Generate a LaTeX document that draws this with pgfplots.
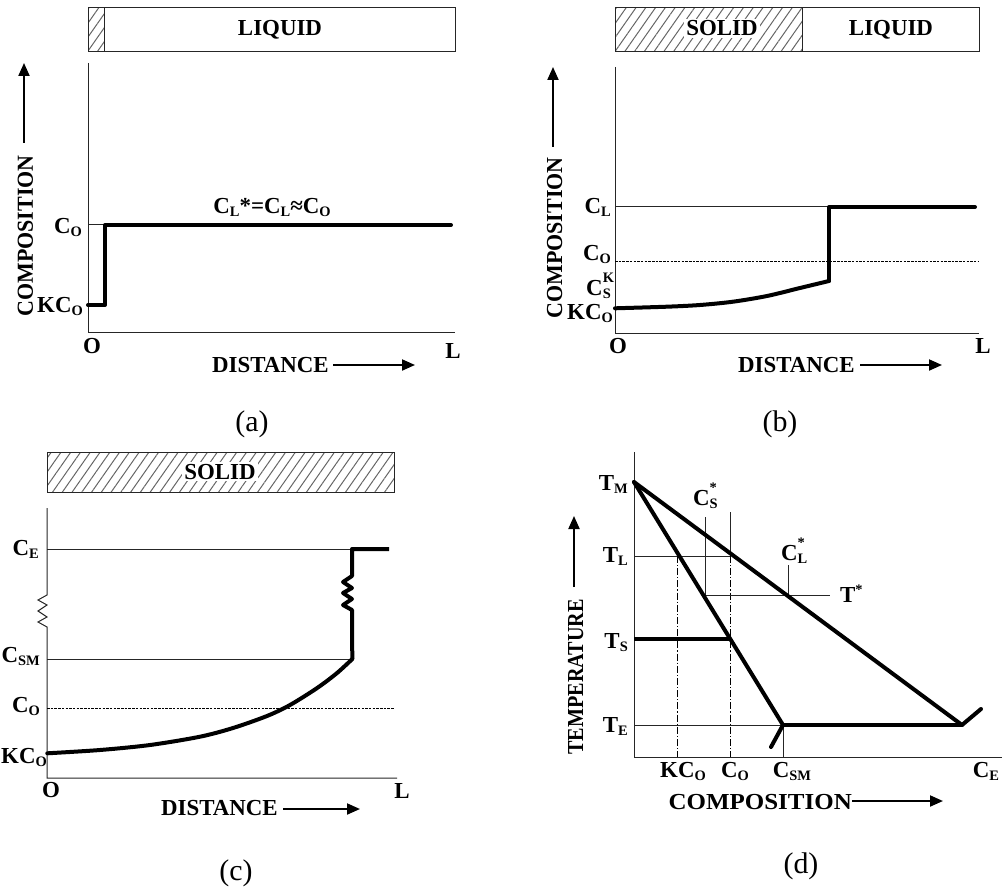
\documentclass[border=0pt]{standalone}
\usepackage{fontspec}
\setmainfont{Liberation Serif}
\usepackage{pgfplots}
\pgfplotsset{compat=1.18}
\usetikzlibrary{patterns.meta,arrows.meta}
\newcommand{\lab}{\bfseries\fontsize{23}{25}\selectfont}
\newcommand{\capf}{\fontsize{30}{32}\selectfont}
\newcommand{\sub}[1]{\raisebox{-3bp}{\fontsize{14.5}{14.5}\selectfont #1}}
\newcommand{\supsub}[2]{\rlap{\raisebox{12.5bp}{\fontsize{14.5}{14.5}\selectfont #1}}\sub{#2}}
\begin{document}
\begin{tikzpicture}[
  thinl/.style={line width=1bp, black!85},
  thickl/.style={line width=4bp, black, line cap=round, line join=round},
  dashl/.style={line width=0.8bp, black, dash pattern=on 2.5bp off 1.2bp},
  dashdot/.style={line width=0.9bp, black, dash pattern=on 7bp off 2bp on 1.2bp off 2bp},
  hatch/.style={pattern={Lines[angle=55,distance=8bp,line width=1bp]}, pattern color=black!60},
  arr/.style={line width=2bp, -{Triangle[length=13bp,width=11bp]}},
]
\begin{axis}[at={(0,0)}, anchor=south west, scale only axis,
  width=1005bp, height=888bp, xmin=0, xmax=1005, ymin=0, ymax=888,
  y dir=reverse, axis lines=none, clip=false]

% ================= (a) =================
\addplot[thinl, hatch] coordinates {(88,8) (104,8) (104,52) (88,52) (88,8)};
\addplot[thinl] coordinates {(104,8) (455,8) (455,52) (104,52)};
\node[anchor=base, font=\lab] at (axis cs:280,36) {LIQUID};
\addplot[thinl] coordinates {(88,63) (88,332) (455,332)};
\addplot[thinl] coordinates {(88,225) (105,225)};
\addplot[thickl] coordinates {(88,305) (105,305) (105,225) (451,225)};
\node[anchor=base, font=\lab] at (axis cs:272,213) {C\sub{L}*=C\sub{L}≈C\sub{O}};
\node[anchor=base east, font=\lab, inner sep=0pt] at (axis cs:82,233) {C\sub{O}};
\node[anchor=base east, font=\lab, inner sep=0pt] at (axis cs:83,312) {KC\sub{O}};
\node[anchor=base, font=\lab] at (axis cs:92,353) {O};
\node[anchor=base, font=\lab] at (axis cs:453,358) {L};
\node[anchor=base east, font=\lab, inner sep=0pt] at (axis cs:329,372) {DISTANCE};
\addplot[arr] coordinates {(333,365) (415,365)};
\node[anchor=base, rotate=90, font=\lab, inner sep=0pt] at (axis cs:33,236) {\scalebox{0.96}[1]{COMPOSITION}};
\addplot[arr] coordinates {(24,143) (24,63)};
\node[anchor=base, font=\capf] at (axis cs:252,431) {(a)};

% ================= (b) =================
\addplot[thinl, hatch] coordinates {(615,8) (802,8) (802,52) (615,52) (615,8)};
\addplot[thinl] coordinates {(802,8) (979,8) (979,52) (802,52)};
\node[anchor=base, font=\lab, fill=white, inner sep=2bp] at (axis cs:722,36) {SOLID};
\node[anchor=base, font=\lab] at (axis cs:891,36) {LIQUID};
\addplot[thinl] coordinates {(615,67) (615,333) (979,333)};
\addplot[thinl] coordinates {(615,207) (829,207)};
\addplot[dashl] coordinates {(615,261) (979,261)};
\addplot[thickl, smooth, tension=0.5] coordinates {(615,308.3) (667,306.7) (700,305) (733,301.7) (767,296) (800,288) (829,281)};
\addplot[thickl] coordinates {(829,281) (829,207) (975,207)};
\node[anchor=base east, font=\lab, inner sep=0pt] at (axis cs:611,213) {C\sub{L}};
\node[anchor=base east, font=\lab, inner sep=0pt] at (axis cs:611,260) {C\sub{O}};
\node[anchor=base east, font=\lab, inner sep=0pt] at (axis cs:611,295) {C\supsub{K}{S}};
\node[anchor=base east, font=\lab, inner sep=0pt] at (axis cs:613,319) {KC\sub{O}};
\node[anchor=base, font=\lab] at (axis cs:618,353) {O};
\node[anchor=base, font=\lab] at (axis cs:983,353) {L};
\node[anchor=base east, font=\lab, inner sep=0pt] at (axis cs:855,372) {DISTANCE};
\addplot[arr] coordinates {(860,365) (942,365)};
\node[anchor=base, rotate=90, font=\lab, inner sep=0pt] at (axis cs:562,238) {\scalebox{0.96}[1]{COMPOSITION}};
\addplot[arr] coordinates {(553,147) (553,67)};
\node[anchor=base, font=\capf] at (axis cs:780,431) {(b)};

% ================= (c) =================
\addplot[thinl, hatch] coordinates {(47,452) (394,452) (394,492) (47,492) (47,452)};
\node[anchor=base, font=\lab, fill=white, inner sep=2bp] at (axis cs:220,479) {SOLID};
\addplot[thinl] coordinates {(47,508) (47,595) (38,600) (47,605) (38,611) (47,617) (38,622) (47,627) (47,778) (397,778)};
\addplot[thinl] coordinates {(47,549) (352,549)};
\addplot[thinl] coordinates {(47,659) (352,659)};
\addplot[dashl] coordinates {(47,708) (394,708)};
\addplot[thickl, smooth, tension=0.5] coordinates {(47.3,753.3) (100,750) (150,745) (200,736.7) (233,728) (267,716) (290,705) (316.7,688.3) (336.7,673.3) (352.3,659)};
\addplot[thickl, line cap=butt] coordinates {(352.3,659) (352,610) (343,605) (352,599) (343,593) (352,588) (343,582) (352,576) (352,549) (389,549)};
\node[anchor=base east, font=\lab, inner sep=0pt] at (axis cs:39,555) {C\sub{E}};
\node[anchor=base east, font=\lab, inner sep=0pt] at (axis cs:40,662) {C\sub{SM}};
\node[anchor=base east, font=\lab, inner sep=0pt] at (axis cs:40,712) {C\sub{O}};
\node[anchor=base west, font=\lab, inner sep=0pt] at (axis cs:1,763) {KC\sub{O}};
\node[anchor=base, font=\lab] at (axis cs:51,797) {O};
\node[anchor=base, font=\lab] at (axis cs:402,798) {L};
\node[anchor=base east, font=\lab, inner sep=0pt] at (axis cs:278,815) {DISTANCE};
\addplot[arr] coordinates {(283,809) (360,809)};
\node[anchor=base, font=\capf] at (axis cs:236,880) {(c)};

% ================= (d) =================
\addplot[thinl] coordinates {(634,452) (634,757) (1002,757)};
\addplot[thinl] coordinates {(634,556) (730,556)};
\addplot[thinl] coordinates {(634,725) (783,725)};
\addplot[dashdot] coordinates {(677,556) (677,757)};
\addplot[thinl] coordinates {(730,512) (730,556)};
\addplot[dashdot] coordinates {(730,556) (730,757)};
\addplot[thinl] coordinates {(705,517) (705,595)};
\addplot[thinl] coordinates {(705,595) (830,595)};
\addplot[thinl] coordinates {(788,565) (788,595)};
\addplot[thinl] coordinates {(783,725) (783,757)};
\addplot[thickl] coordinates {(634,482) (962,725) (981,709)};
\addplot[thickl] coordinates {(634,482) (783,725) (771,747)};
\addplot[thickl] coordinates {(783,725) (962,725)};
\addplot[thickl, line cap=butt] coordinates {(634,639) (730,639)};
\node[anchor=base east, font=\lab, inner sep=0pt] at (axis cs:628,490) {T\sub{M}};
\node[anchor=base east, font=\lab, inner sep=0pt] at (axis cs:628,562) {T\sub{L}};
\node[anchor=base east, font=\lab, inner sep=0pt] at (axis cs:628,648) {T\sub{S}};
\node[anchor=base east, font=\lab, inner sep=0pt] at (axis cs:628,732) {T\sub{E}};
\node[anchor=base west, font=\lab, inner sep=0pt] at (axis cs:693,505) {C\supsub{*}{S}};
\node[anchor=base west, font=\lab, inner sep=0pt] at (axis cs:781,560) {C\supsub{*}{L}};
\node[anchor=base west, font=\lab, inner sep=0pt] at (axis cs:840,602) {T\raisebox{8bp}{\fontsize{14.5}{14.5}\selectfont *}};
\node[anchor=base, font=\lab, inner sep=0pt] at (axis cs:683,777) {KC\sub{O}};
\node[anchor=base, font=\lab, inner sep=0pt] at (axis cs:735,777) {C\sub{O}};
\node[anchor=base, font=\lab, inner sep=0pt] at (axis cs:792,777) {C\sub{SM}};
\node[anchor=base, font=\lab, inner sep=0pt] at (axis cs:986,777) {C\sub{E}};
\node[anchor=base east, font=\lab, inner sep=0pt] at (axis cs:852,809) {\scalebox{1.09}[1]{COMPOSITION}};
\addplot[arr] coordinates {(852,801) (943,801)};
\node[anchor=base, rotate=90, font=\lab, inner sep=0pt] at (axis cs:583,677) {\scalebox{0.88}[1]{TEMPERATURE}};
\addplot[arr] coordinates {(574,587) (574,516)};
\node[anchor=base, font=\capf] at (axis cs:801,873) {(d)};
\end{axis}
\pgfresetboundingbox
\useasboundingbox (0,0) rectangle (1005bp,888bp);
\end{tikzpicture}
\end{document}
